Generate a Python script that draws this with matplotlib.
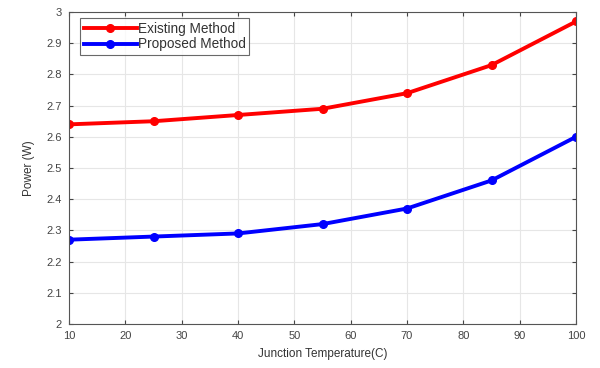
import matplotlib
matplotlib.use("Agg")
import matplotlib.pyplot as plt

plt.rcParams['font.family'] = ['Liberation Sans', 'DejaVu Sans']

temps = [10, 25, 40, 55, 70, 85, 100]
existing = [2.64, 2.65, 2.67, 2.69, 2.74, 2.83, 2.97]
proposed = [2.27, 2.28, 2.29, 2.32, 2.37, 2.46, 2.60]

fig = plt.figure(figsize=(6, 3.68), dpi=100)
ax = fig.add_axes([0.115, 0.12, 0.845, 0.847])

ax.plot(temps, existing, color="red", lw=2.8, marker="o", ms=5.5, label="Existing Method")
ax.plot(temps, proposed, color="blue", lw=2.8, marker="o", ms=5.5, label="Proposed Method")

ax.set_xlim(10, 100)
ax.set_ylim(2, 3)
ax.set_xticks(range(10, 101, 10))
ax.set_yticks([2, 2.1, 2.2, 2.3, 2.4, 2.5, 2.6, 2.7, 2.8, 2.9, 3])
ax.set_yticklabels(["2", "2.1", "2.2", "2.3", "2.4", "2.5", "2.6", "2.7", "2.8", "2.9", "3"])
ax.grid(True, color="#e6e6e6", lw=0.8)
ax.tick_params(labelsize=8, colors="#444444", direction="in", length=3, top=True, right=True, pad=5)
for s in ax.spines.values():
    s.set_color("#555555")
    s.set_linewidth(0.8)

ax.set_xlabel("Junction Temperature(C)", fontsize=8.5, color="#333333", labelpad=5)
ax.set_ylabel("Power (W)", fontsize=8.5, color="#333333", labelpad=8)

leg = ax.legend(loc="upper left", fontsize=9.8, frameon=True, fancybox=False,
                edgecolor="#444444", borderpad=0.25, handlelength=3.9,
                handletextpad=0.1, labelspacing=0.12, borderaxespad=0.45,
                bbox_to_anchor=(0.01, 1.0))
leg.get_frame().set_linewidth(0.8)
for t in leg.get_texts():
    t.set_color("#333333")

fig.savefig("out.png", dpi=100)
